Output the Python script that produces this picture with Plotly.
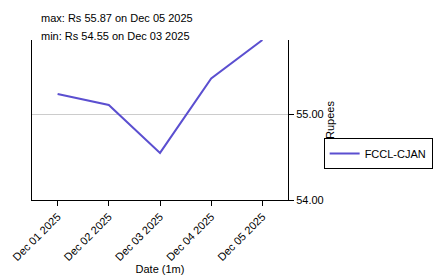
import plotly.graph_objects as go

dates = ["2025-12-01", "2025-12-02", "2025-12-03", "2025-12-04", "2025-12-05"]
prices = [55.24, 55.11, 54.55, 55.42, 55.87]
tick_labels = ["Dec 01 2025", "Dec 02 2025", "Dec 03 2025", "Dec 04 2025", "Dec 05 2025"]
series_name = "FCCL-CJAN"
max_text = "max: Rs 55.87 on Dec 05 2025"
min_text = "min: Rs 54.55 on Dec 03 2025"

font = dict(family="Liberation Sans, Arial, sans-serif", size=11, color="#000")

fig = go.Figure()
fig.add_trace(go.Scatter(x=dates, y=prices, mode="lines", name=series_name,
                         line=dict(color="#5b4fd0", width=2)))

fig.update_layout(
    width=436, height=275,
    margin=dict(l=32, r=148, t=40, b=75, autoexpand=False),
    paper_bgcolor="white", plot_bgcolor="white",
    font=font,
    showlegend=True,
    legend=dict(x=1.565, y=0.29, xanchor="right", yanchor="middle",
                bordercolor="#000", borderwidth=1, font=font,
                itemwidth=30, tracegroupgap=0),
    xaxis=dict(type="date", range=["2025-11-30 12:00", "2025-12-05 12:00"],
               tickvals=dates, ticktext=tick_labels, tickangle=-45,
               showline=True, linecolor="#000", linewidth=1,
               ticks="outside", ticklen=5, tickcolor="#000",
               showgrid=False, zeroline=False, automargin=False,
               title=dict(text="Date (1m)", font=font, standoff=4)),
    yaxis=dict(range=[54.0, 55.87], side="right",
               tickvals=[54.0, 55.0], tickformat=".2f",
               showline=True, linecolor="#000", linewidth=1, mirror=True,
               ticks="outside", ticklen=5, tickcolor="#000",
               showgrid=True, gridcolor="#cccccc", gridwidth=1,
               zeroline=False, automargin=False,
               title=dict(text="Rupees", font=font, standoff=2)),
    annotations=[
        dict(text=max_text, xref="paper", yref="paper", x=0.027, y=1.1375,
             xanchor="left", yanchor="middle", showarrow=False, font=font),
        dict(text=min_text, xref="paper", yref="paper", x=0.027, y=1.025,
             xanchor="left", yanchor="middle", showarrow=False, font=font),
    ],
)

fig.write_html("out.html")
